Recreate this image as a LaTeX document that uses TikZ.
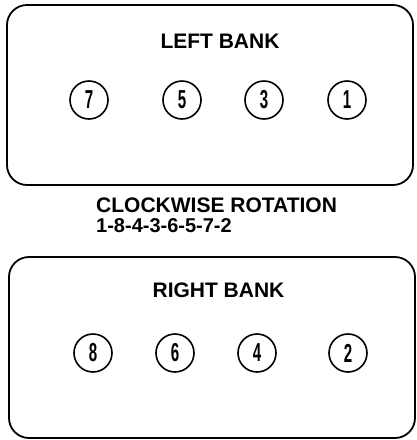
\documentclass[tikz,border=0pt]{standalone}
\usepackage{fontspec}
\setmainfont{Liberation Sans}
\begin{document}
\begin{tikzpicture}[x=1pt,y=-1pt,
  bank/.style={draw,line width=1.8pt,rounded corners=20pt},
  cyl/.style={draw,circle,line width=1.6pt,minimum size=38pt,inner sep=0pt,
    font=\fontsize{26}{26}\selectfont\bfseries},
  heading/.style={font=\fontsize{21}{21}\selectfont\bfseries,inner sep=0pt}]
\useasboundingbox (0,0) rectangle (416,440);
% left bank
\draw[bank] (7,5) rectangle (413,185);
\node[heading,anchor=base] (lt) at (220,48) {LEFT BANK};
\node[cyl] (c7) at (89,100) {\scalebox{0.58}[1]{7}};
\node[cyl] (c5) at (182,100) {\scalebox{0.58}[1]{5}};
\node[cyl] (c3) at (264,100) {\scalebox{0.58}[1]{3}};
\node[cyl] (c1) at (347,100) {\scalebox{0.58}[1]{1}};
% firing order
\node[heading,anchor=base west] (rot) at (96,212) {CLOCKWISE ROTATION};
\node[heading,anchor=base west,font=\fontsize{20}{20}\selectfont\bfseries] (ord) at (96,232) {1-8-4-3-6-5-7-2};
% right bank
\draw[bank] (9,257) rectangle (415,438);
\node[heading,anchor=base] (rt) at (218.5,297) {RIGHT BANK};
\node[cyl] (c8) at (93,353) {\scalebox{0.58}[1]{8}};
\node[cyl] (c6) at (175,353) {\scalebox{0.58}[1]{6}};
\node[cyl] (c4) at (257,353) {\scalebox{0.58}[1]{4}};
\node[cyl] (c2) at (348,353) {\scalebox{0.58}[1]{2}};
\end{tikzpicture}
\end{document}
